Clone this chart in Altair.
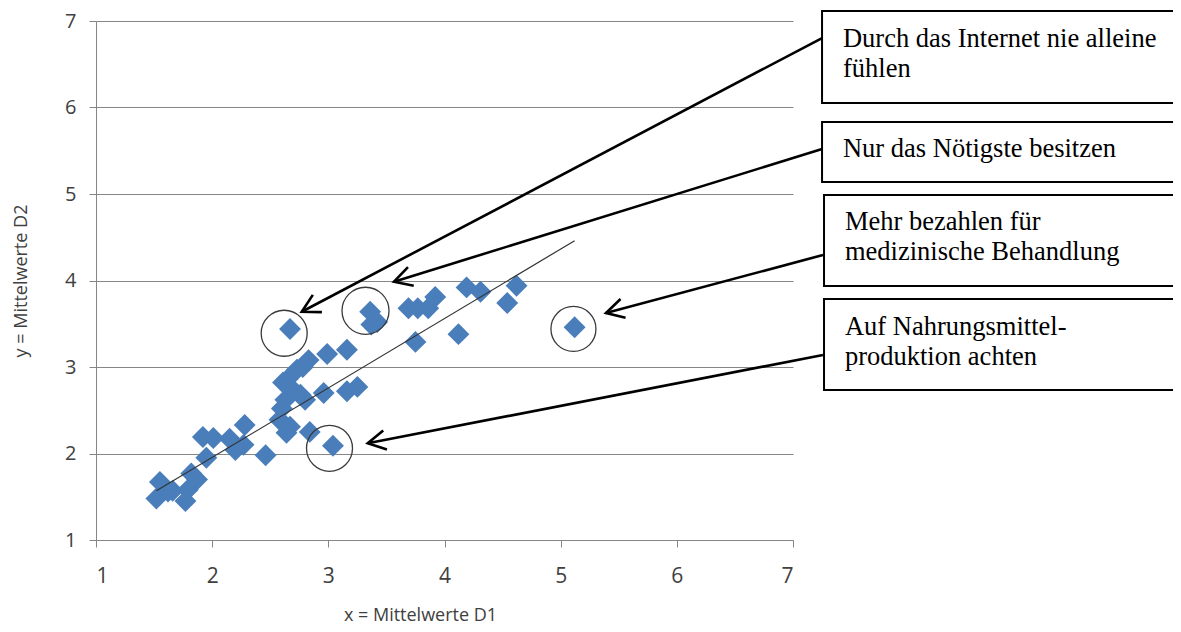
import math
import altair as alt
import pandas as pd

# ---- scatter data (x = Mittelwerte D1, y = Mittelwerte D2) ----
pts_x = [1.52, 1.55, 1.62, 1.66, 1.77, 1.79, 1.82, 1.87, 1.95, 1.92,
         2.01, 2.15, 2.20, 2.27, 2.28, 2.46, 2.58, 2.60, 2.64, 2.67,
         2.84, 3.04, 2.63, 2.70, 2.76, 2.80, 2.96, 3.16, 3.25, 2.61,
         2.65, 2.73, 2.78, 2.83, 2.99, 3.16, 2.67, 3.36, 3.37, 3.42,
         3.69, 3.77, 3.86, 3.92, 3.75, 4.12, 4.19, 4.31, 4.54, 4.62, 5.12]
pts_y = [1.48, 1.67, 1.56, 1.57, 1.45, 1.58, 1.77, 1.70, 1.95, 2.19,
         2.18, 2.17, 2.04, 2.10, 2.33, 1.98, 2.39, 2.52, 2.24, 2.31,
         2.25, 2.09, 2.62, 2.73, 2.68, 2.62, 2.70, 2.72, 2.77, 2.82,
         2.86, 2.97, 3.00, 3.08, 3.15, 3.20, 3.44, 3.64, 3.49, 3.52,
         3.68, 3.68, 3.68, 3.81, 3.29, 3.38, 3.92, 3.87, 3.74, 3.94, 3.46]

# trend line end points
trend_x = [1.52, 5.12]
trend_y = [1.57, 4.46]

# highlighted points (circles)
circ_x = [2.62, 3.32, 3.01, 5.11]
circ_y = [3.39, 3.65, 2.06, 3.44]
circ_r = [23, 23.5, 23, 22.5]

# annotation boxes
box_left = [7.25, 7.25, 7.267, 7.267]
box_right = [10.6, 10.6, 10.6, 10.6]
box_top = [7.116, 5.832, 4.988, 3.786]
box_bottom = [6.052, 5.139, 3.936, 2.734]

# annotation texts (one row per line)
text_lines = ["Durch das Internet nie alleine", "fühlen",
              "Nur das Nötigste besitzen",
              "Mehr bezahlen für", "medizinische Behandlung",
              "Auf Nahrungsmittel-", "produktion achten"]
text_x = [7.43, 7.43, 7.43, 7.447, 7.447, 7.447, 7.447]
text_y = [6.703, 6.349, 5.431, 4.584, 4.237, 3.370, 3.023]

# arrows: from box to circle
arr_x0 = [7.25, 7.25, 7.258, 7.258]
arr_y0 = [6.803, 5.520, 4.295, 3.139]
arr_x1 = [2.771, 3.565, 5.390, 3.339]
arr_y1 = [3.639, 3.986, 3.624, 2.118]

ticks = [1, 2, 3, 4, 5, 6, 7]

W, H = 697, 519
kx = W / 6.0
ky = H / 6.0

pts = pd.DataFrame({"x": pts_x, "y": pts_y})
trend = pd.DataFrame({"x": trend_x, "y": trend_y})
circ = pd.DataFrame({"x": circ_x, "y": circ_y,
                     "s": [(2 * r) ** 2 for r in circ_r]})
boxes = pd.DataFrame({"x": box_left, "x2": box_right,
                      "y": box_top, "y2": box_bottom})
texts = pd.DataFrame({"x": text_x, "y": text_y, "t": text_lines})
angles = []
for a, b, c, d in zip(arr_x0, arr_y0, arr_x1, arr_y1):
    dx = (c - a) * kx
    dy = -(d - b) * ky
    angles.append(math.degrees(math.atan2(dy, dx)) % 360)
arrows = pd.DataFrame({"x": arr_x0, "y": arr_y0, "x2": arr_x1, "y2": arr_y1,
                       "ang": angles})

xs = alt.Scale(domain=[1, 7], nice=False, zero=False)
ys = alt.Scale(domain=[1, 7], nice=False, zero=False)

axis_font = "Open Sans"
gray = "#868686"

x_axis = alt.Axis(values=ticks, grid=False, domainColor=gray, tickColor=gray,
                  tickSize=7, labelFont=axis_font, labelFontSize=21,
                  labelColor="#404040", labelPadding=18,
                  title="x = Mittelwerte D1", titleFont=axis_font,
                  titleFontSize=18, titleFontWeight="normal",
                  titleColor="#404040", titleX=324, titleY=84,
                  titleBaseline="bottom", titleAnchor="middle")
y_axis = alt.Axis(values=ticks, grid=True, gridColor=gray, gridWidth=1,
                  domainColor=gray, tickColor=gray, tickSize=7,
                  labelFont=axis_font, labelFontSize=20, labelColor="#404040",
                  labelPadding=13,
                  title="y = Mittelwerte D2", titleFont=axis_font,
                  titleFontSize=18, titleFontWeight="normal",
                  titleColor="#404040", titleX=-75, titleY=259.5,
                  titleAngle=270, titleBaseline="middle", titleAlign="center")


def X(field):
    return alt.X(field, scale=xs, axis=x_axis)


def Y(field):
    return alt.Y(field, scale=ys, axis=y_axis)


points = alt.Chart(pts).mark_point(
    shape="diamond", filled=True, color="#4a7ebb", size=480, opacity=1,
    strokeWidth=0
).encode(x=X("x:Q"), y=Y("y:Q"))

trend_line = alt.Chart(trend).mark_line(color="#333333", strokeWidth=1.2).encode(
    x=X("x:Q"), y=Y("y:Q"))

circles = alt.Chart(circ).mark_point(
    shape="circle", filled=False, color="#3a3a3a", strokeWidth=1.3, opacity=1
).encode(x=X("x:Q"), y=Y("y:Q"),
         size=alt.Size("s:Q", scale=None, legend=None))

arrow_lines = alt.Chart(arrows).mark_rule(color="black", strokeWidth=2.6,
                                          clip=False).encode(
    x=X("x:Q"), y=Y("y:Q"), x2="x2:Q", y2="y2:Q")

arrow_heads = alt.Chart(arrows).mark_point(
    shape="M -1 -0.55 L 0 0 L -1 0.55", filled=False, color="black",
    strokeWidth=2.6, size=1250, opacity=1, clip=False, strokeJoin="miter"
).encode(x=X("x2:Q"), y=Y("y2:Q"),
         angle=alt.Angle("ang:Q", scale=None))

box_marks = alt.Chart(boxes).mark_rect(fill="white", stroke="black",
                                       strokeWidth=2, clip=False).encode(
    x=X("x:Q"), x2="x2:Q", y=Y("y:Q"), y2="y2:Q")

text_marks = alt.Chart(texts).mark_text(
    font="Liberation Serif", fontSize=26.5, align="left", baseline="alphabetic",
    color="black", clip=False
).encode(x=X("x:Q"), y=Y("y:Q"), text="t:N")

chart = alt.layer(points, trend_line, circles, arrow_lines, arrow_heads,
                  box_marks, text_marks).properties(
    width=W, height=H,
    autosize=alt.AutoSizeParams(type="none"),
    padding={"left": 88, "top": 13, "right": 380, "bottom": 84},
    background="white"
).configure_view(stroke=None)

chart.save("out.html", embed_options={"renderer": "svg", "actions": False})
